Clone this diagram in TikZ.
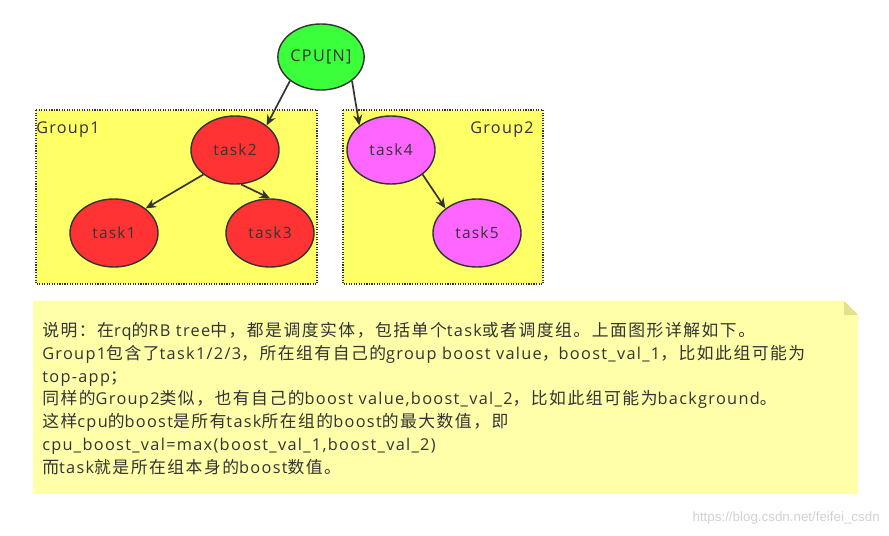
\documentclass[tikz,border=0pt]{standalone}
\usepackage{fontspec}
\setmainfont{Open Sans}[LetterSpace=8]
\newfontfamily\zhfont{Noto Sans CJK SC}[Scale=1.03,LetterSpace=9]
\newfontfamily\markfont{Liberation Sans}
\usepackage{xcolor}
\usetikzlibrary{shapes.geometric,arrows.meta}
\definecolor{linegray}{HTML}{333333}
\definecolor{cpugreen}{HTML}{3CFF3C}
\definecolor{taskred}{HTML}{FF3333}
\definecolor{taskpink}{HTML}{FF66FF}
\definecolor{groupyellow}{HTML}{FFFF66}
\definecolor{noteyellow}{HTML}{FFFFAA}
\definecolor{notefold}{HTML}{E2E28C}

\begin{document}
\begin{tikzpicture}[x=0.025cm,y=-0.025cm,
		task/.style={ellipse,draw=linegray,line width=1pt,minimum width=2.2cm,minimum height=1.7cm,inner sep=0pt,text=linegray,font=\fontsize{11}{13}\selectfont},
		link/.style={-{Stealth[length=7.5pt,width=6.5pt]},line width=1.2pt,draw=linegray},
		group/.style={draw=linegray,densely dotted,line width=0.8pt,fill=groupyellow}]
		\useasboundingbox (0,0) rectangle (889,536);
		
		% groups
		\draw [group] (36,110) rectangle (317,284);
		\draw [group] (343,110) rectangle (543,284);
		\node [anchor=west, text=linegray, font=\fontsize{11.5}{13}\selectfont, inner sep=0pt] (g1) at (36,130) {Group1};
		\node [anchor=east, text=linegray, font=\fontsize{11.5}{13}\selectfont, inner sep=0pt] (g2) at (534,130) {Group2};
		
		% tree
		\node [task, fill=cpugreen, minimum width=2.15cm, minimum height=1.65cm, font=\fontsize{11.5}{13}\selectfont] (cpu) at (321,57) {CPU[N]};
		\node [task, fill=taskred] (task2) at (235,150) {task2};
		\node [task, fill=taskred] (task1) at (114,233) {task1};
		\node [task, fill=taskred] (task3) at (270,233) {task3};
		\node [task, fill=taskpink] (task4) at (391,150) {task4};
		\node [task, fill=taskpink] (task5) at (477,233) {task5};
		
		\draw [link] (cpu.south west) -- (task2.north east);
		\draw [link] (cpu.south east) -- (task4.north west);
		\draw [link] (task2.south west) -- (task1.north east);
		\draw [link] (task2.-80) -- (task3.north);
		\draw [link] (task4.south east) -- (task5.north west);
		
		% note
		\fill [noteyellow] (33,301) -- (844,301) -- (858,315) -- (858,494) -- (33,494) -- cycle;
		\fill [notefold] (844,301) -- (858,315) -- (844,315) -- cycle;
		\node [anchor=north west, align=left, inner sep=0pt, text=linegray, font=\fontsize{11.6}{16.2}\selectfont] (note) at (42,322) {%
			{\zhfont 说明：在}rq{\zhfont 的}RB tree{\zhfont 中，都是调度实体，包括单个}task{\zhfont 或者调度组。上面图形详解如下。}\\
			Group1{\zhfont 包含了}task1/2/3{\zhfont ，所在组有自己的}group boost value{\zhfont ，}boost\_val\_1{\zhfont ，比如此组可能为}\\
			top-app{\zhfont ；}\\
			{\zhfont 同样的}Group2{\zhfont 类似，也有自己的}boost value,boost\_val\_2{\zhfont ，比如此组可能为}background{\zhfont 。}\\
			{\zhfont 这样}cpu{\zhfont 的}boost{\zhfont 是所有}task{\zhfont 所在组的}boost{\zhfont 的最大数值，即}\\
			cpu\_boost\_val=max(boost\_val\_1,boost\_val\_2)\\
			{\zhfont 而}task{\zhfont 就是所在组本身的}boost{\zhfont 数值。}};
		
		\node [anchor=east, text=black!18, font=\markfont\fontsize{9.5}{11}\selectfont, inner sep=0pt] (mark) at (880,518) {https://blog.csdn.net/feifei\_csdn};
\end{tikzpicture}
\end{document}
